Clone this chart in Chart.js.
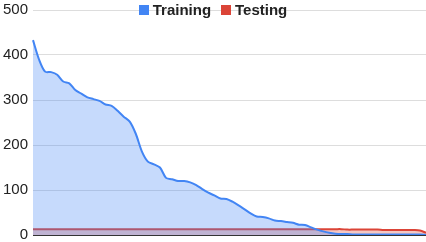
<!DOCTYPE html>
<html>
<head>
<meta charset="utf-8">
<script src="https://cdn.jsdelivr.net/npm/chart.js@4"></script>
<style>
  body { margin: 0; background: #fff; font-family: "Liberation Sans", Arial, sans-serif; }
  #wrap { position: relative; width: 426px; height: 242px; overflow: hidden; }
  #legend { position: absolute; top: 1px; left: 0; width: 426px; text-align: center; font-size: 15px; font-weight: bold; color: #222; pointer-events: none; }
  #legend span.box { display: inline-block; width: 10px; height: 10px; margin-right: 4px; vertical-align: 0px; }
  #legend span.item { margin: 0 5px; }
</style>
</head>
<body>
<div id="wrap">
  <canvas id="chart" width="426" height="242"></canvas>
  <div id="legend"></div>
</div>
<script>
// datos
const seriesNames = ['Training', 'Testing'];
const seriesColors = ['#4285f4', '#db4437'];

const training = [433, 390, 363, 362, 356, 341, 337, 322, 314, 306,
                  302, 298, 290, 287, 276, 263, 252, 225, 186, 163,
                  157, 150, 127, 124, 120, 120, 117, 111, 102, 94,
                  88, 81, 80, 74, 66, 57, 48, 41, 40, 37,
                  32, 31, 29, 27, 23, 22, 17, 12, 8, 5,
                  3, 2, 2, 1, 1, 1, 1, 1, 1, 1,
                  1, 1, 1, 1, 1, 0];
const testing = [13, 13, 13, 13, 13, 13, 13, 13, 13, 13,
                 13, 13, 13, 13, 13, 13, 13, 13, 13, 13,
                 13, 13, 13, 13, 13, 13, 13, 13, 13, 13,
                 13, 13, 13, 13, 13, 13, 13, 13, 13, 13,
                 13, 13, 13, 13, 13, 13, 13, 13, 13, 13,
                 13, 13, 12, 12, 12, 12, 12, 12, 11, 11,
                 11, 11, 11, 11, 10, 5];
const labels = training.map((_, i) => String(i + 1));
const yTicks = [0, 100, 200, 300, 400, 500];

// leyenda HTML
document.getElementById('legend').innerHTML = seriesNames.map((n, i) =>
  `<span class="item"><span class="box" style="background:${seriesColors[i]}"></span>${n}</span>`
).join('');

new Chart(document.getElementById('chart').getContext('2d'), {
  type: 'line',
  data: {
    labels: labels,
    datasets: [
      {
        label: seriesNames[0],
        data: training,
        borderColor: seriesColors[0],
        backgroundColor: 'rgba(66,133,244,0.3)',
        fill: 'origin',
        borderWidth: 2,
        pointRadius: 0,
        tension: 0.3
      },
      {
        label: seriesNames[1],
        data: testing,
        borderColor: seriesColors[1],
        backgroundColor: 'rgba(219,68,55,0.3)',
        fill: 'origin',
        borderWidth: 2,
        pointRadius: 0,
        tension: 0.3
      }
    ]
  },
  options: {
    responsive: false,
    animation: false,
    layout: { padding: { top: 10, right: 0, bottom: 0, left: 0 } },
    plugins: { legend: { display: false }, tooltip: { enabled: false } },
    scales: {
      x: {
        offset: false,
        ticks: { display: false },
        grid: { display: false },
        border: { color: '#333', width: 1 },
        afterFit: (s) => { s.height = 7; s.paddingLeft = 0; s.paddingRight = 0; }
      },
      y: {
        min: 0, max: 500,
        afterBuildTicks: (s) => { s.ticks = yTicks.map(v => ({ value: v })); },
        afterFit: (s) => { s.width = 33; s.paddingTop = 0; s.paddingBottom = 0; },
        ticks: { color: '#222', font: { family: 'Liberation Sans', size: 15 }, padding: 5 },
        grid: { color: '#dddddd', drawTicks: false },
        border: { display: false }
      }
    }
  }
});
</script>
</body>
</html>
